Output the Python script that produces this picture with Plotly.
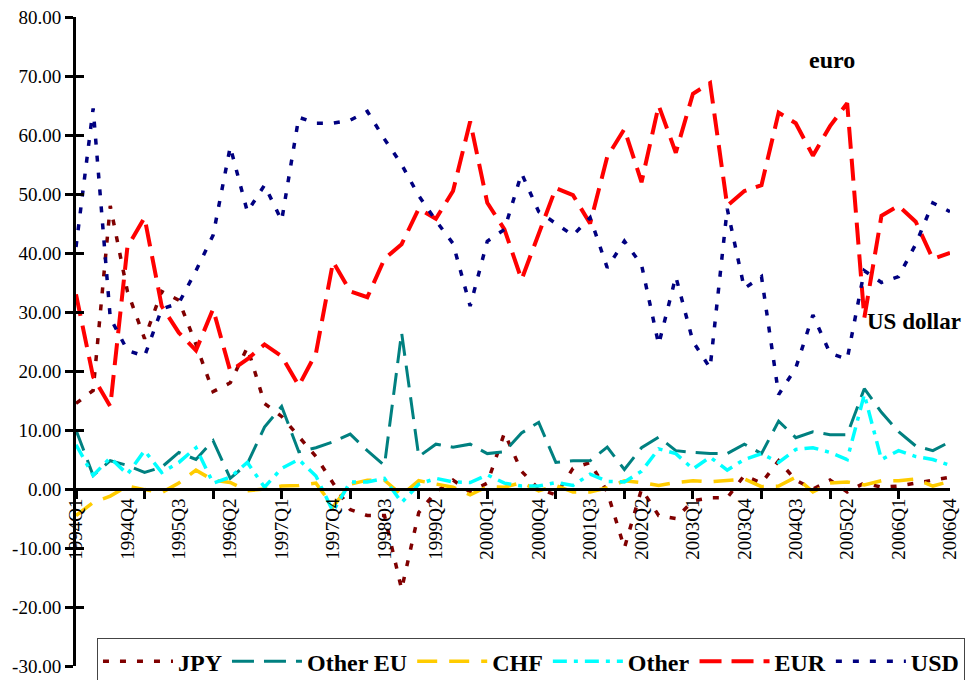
import plotly.graph_objects as go

quarters = [f"{y}Q{q}" for y in range(1994, 2007) for q in range(1, 5)]

jpy = [14.5, 16.7, 48, 33.5, 25.5, 33.5, 32, 24.5, 16.5, 18, 24, 14.5, 12.3, 9,
       5.5, 1, -3.5, -4.5, -4.5, -17, -4, -0.5, 1.5, -0.5, 1, 9.5, 3, 0,
       -1, 3.5, 4.5, -0.5, -10, 0, -4.5, -5, -2, -1.5, -1.5, 2.3, 1, 4.8,
       1.5, 0, 1.5, -0.5, 1, 0.3, 0.5, 1, 1.5, 2]
other_eu = [10, 2.3, 4.8, 4, 2.8, 3.7, 6.2, 5, 8.2, 1.8, 4.3, 10.5, 14, 6.3,
            7, 8, 9.3, 6.5, 4, 26.5, 5.5, 7.6, 7.1, 7.6, 6, 6.3, 9.5, 11.3,
            4.5, 4.8, 4.8, 7.1, 3.3, 7, 8.8, 6.5, 6.2, 6, 6, 7.6, 6, 11.5,
            8.7, 9.7, 9.2, 9.2, 17, 13, 9.7, 7.3, 6.5, 8]
chf = [-4.5, -2.3, -1.2, 0.5, -0.1, -0.6, 1, 3.2, 1.5, 1.1, -0.3, 0, 0.5, 0.6,
       1, -3, 0.8, 1.5, 1.5, -1, 1.4, 0.8, 0.3, -1, 0.4, 0.3, 1.1, -0.3,
       0.6, -0.5, -0.5, 0.2, 1.4, 1.1, 0.6, 1.1, 1.4, 1.2, 1.4, 1.7, 0.4, 0.5,
       2, -0.5, 1, 1.2, 0.7, 1.4, 1.4, 1.7, 0.5, 1.3]
other = [7.5, 2.3, 5.3, 2.5, 6.5, 2.8, 4.5, 7, 1, 2, 4.5, 0.3, 3.5, 5,
         2.2, -3.8, 1.2, 1.2, 1.8, -2.3, 0.8, 1.8, 1.2, 1.1, 2.4, 1, 0.5, 0.5,
         1.1, 0.6, 2.5, 1.3, 1.2, 3, 6.8, 6, 3.4, 5.4, 3.2, 5, 6, 4.5,
         6.7, 7, 6.2, 5, 16, 5, 6.5, 5.5, 5, 4]
eur = [33, 19, 14, 41, 46, 31, 26.5, 23.5, 30.5, 20, 22, 24.5, 22.5, 17.5,
       23, 38.5, 33.5, 32.5, 39, 41.5, 47.5, 45.8, 50.5, 62.3, 48.5, 44, 35.5, 43.5,
       51, 49.8, 45, 56.3, 61, 52, 65, 57, 67, 68.8, 48, 50.5, 51.5, 63.8,
       62, 56.5, 61.5, 65.4, 29, 46.3, 48, 45.3, 39, 40]
usd = [41, 64.5, 29, 23.5, 22.5, 30.5, 31.5, 37, 43, 58, 47, 51.5, 45.5, 63,
       62, 62, 62.5, 64, 59.3, 55, 49.7, 45.5, 41.6, 31, 42, 44, 53.5, 47,
       45, 43, 46, 37.5, 42, 38, 24.5, 36, 25, 20.5, 47.5, 34, 36, 16,
       20.5, 29.5, 23, 22, 37, 35, 36, 41.5, 48.5, 47]

series = [
    ("JPY", jpy, "#800000", 3.5, "6px,11px"),
    ("Other EU", other_eu, "#008080", 3, "22px,10px"),
    ("CHF", chf, "#FFCC00", 3.5, "20px,12px"),
    ("Other", other, "#00FFFF", 3.5, "14px,7px,4px,7px"),
    ("EUR", eur, "#FF0000", 4, "22px,10px"),
    ("USD", usd, "#000080", 3.5, "6px,11px"),
]

y_ticks = list(range(-30, 81, 10))
idx = list(range(len(quarters)))
label_idx = idx[::3]
year_idx = idx[::4]

FONT = "Liberation Serif"

fig = go.Figure()
for name, vals, color, width, dash in series:
    fig.add_trace(go.Scatter(
        x=idx, y=vals, name=name, mode="lines",
        text=quarters,
        line=dict(color=color, width=width, dash=dash),
        hovertemplate="%{text}: %{y:.2f}<extra>" + name + "</extra>",
    ))

fig.update_layout(
    width=966, height=680,
    margin=dict(l=76, r=16, t=17, b=14, autoexpand=False),
    paper_bgcolor="white", plot_bgcolor="white",
    font=dict(family=FONT, size=19, color="black"),
    showlegend=True,
    legend=dict(
        orientation="h", x=0.024, xanchor="left", y=0.043, yanchor="top",
        font=dict(family=FONT, size=24, color="black", weight="bold"),
        bgcolor="white", bordercolor="#444444", borderwidth=1,
        itemwidth=70, tracegroupgap=0,
    ),
    xaxis=dict(
        range=[0, len(quarters) - 1], automargin=False,
        tickmode="array", tickvals=label_idx,
        ticktext=[quarters[i] for i in label_idx],
        tickangle=-90, ticks="", showgrid=False, zeroline=False,
        showline=True, linecolor="black", linewidth=3,
        anchor="free", position=30 / 110,
        tickfont=dict(family=FONT, size=19, color="black"),
        minor=dict(tickmode="array", tickvals=year_idx, ticks="outside",
                   ticklen=8, tickwidth=3, tickcolor="black", showgrid=False),
    ),
    yaxis=dict(
        range=[-30, 80], tickmode="array", tickvals=y_ticks, automargin=False,
        ticktext=[f"{v:.2f}" for v in y_ticks],
        ticks="outside", ticklen=8, tickwidth=3, tickcolor="black",
        showline=True, linecolor="black", linewidth=3,
        showgrid=False, zeroline=False,
        tickfont=dict(family=FONT, size=19, color="black"),
    ),
    yaxis2=dict(
        range=[-30, 80], overlaying="y", side="left", tickmode="array",
        tickvals=y_ticks, ticks="inside", ticklen=8, tickwidth=3, automargin=False,
        tickcolor="black", showticklabels=False, showline=False,
        showgrid=False, zeroline=False,
    ),
    annotations=[
        dict(x=44.1, y=72.7, xref="x", yref="y", text="euro", showarrow=False,
             font=dict(family=FONT, size=24, color="black", weight="bold")),
        dict(x=len(quarters) - 1, y=28.4, xref="x", yref="y", text="US dollar",
             showarrow=False, xanchor="right", xshift=13,
             font=dict(family=FONT, size=23, color="black", weight="bold")),
    ],
)

# invisible trace to activate overlay axis for the crossing y ticks
fig.add_trace(go.Scatter(x=[0], y=[0], yaxis="y2", mode="markers",
                         marker=dict(opacity=0), showlegend=False, hoverinfo="skip"))

fig.write_html(
    "out.html",
    config={"displayModeBar": False},
    post_script="document.body.style.margin='0';document.body.style.overflow='hidden';",
)
